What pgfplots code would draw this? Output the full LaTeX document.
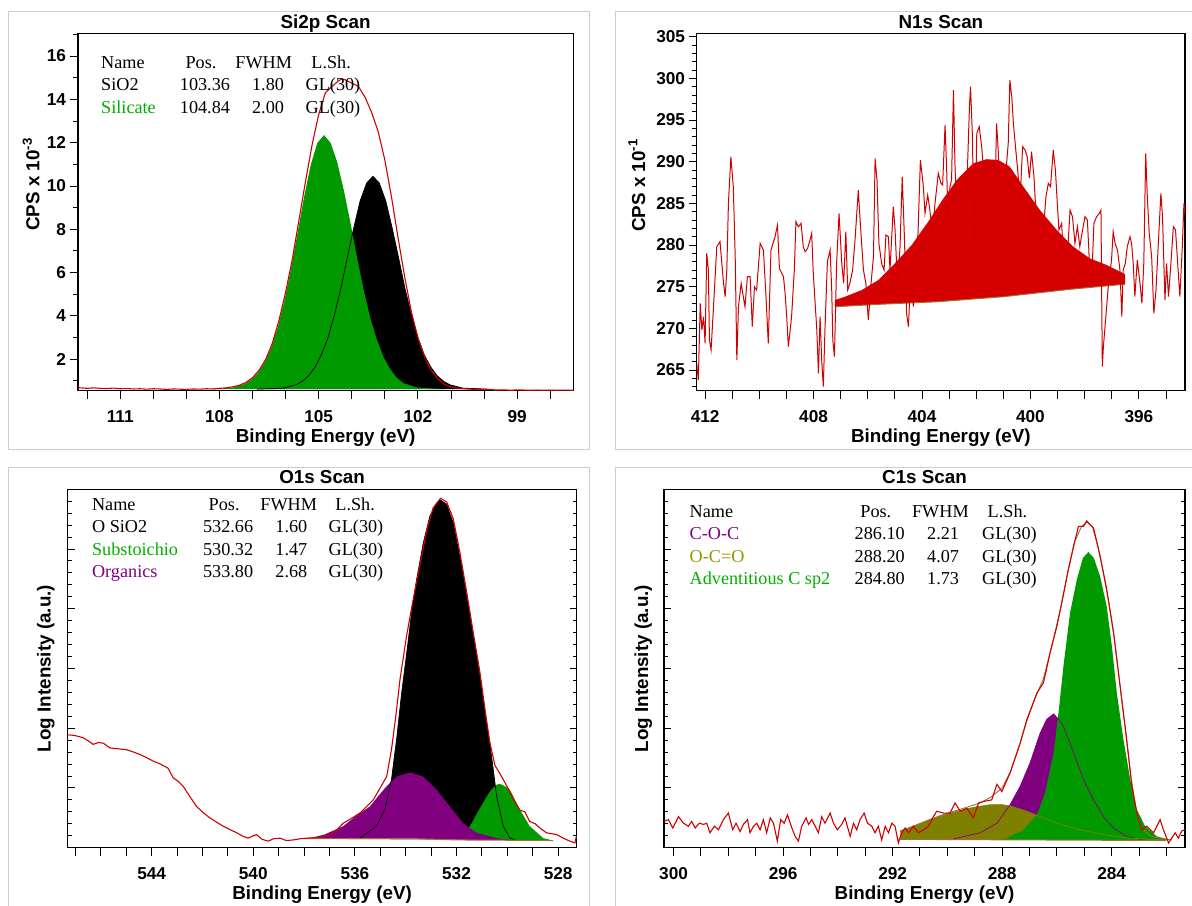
\documentclass[border=0pt]{standalone}
\usepackage{pgfplots}
\pgfplotsset{compat=1.18}
\usepackage{fontspec}
\setmainfont{Liberation Sans}
\newfontfamily\legserif{Liberation Serif}

\definecolor{pkgreen}{RGB}{0,153,0}
\definecolor{pkpurple}{RGB}{128,0,128}
\definecolor{pkolive}{RGB}{128,128,0}
\definecolor{datred}{RGB}{208,0,0}
\definecolor{fillred}{RGB}{214,0,0}
\definecolor{bgbrown}{RGB}{160,110,55}
\definecolor{framegray}{RGB}{205,205,205}
\definecolor{txtgreen}{RGB}{0,175,0}
\definecolor{txtolive}{RGB}{150,150,0}

\newcommand\lgf{\legserif\fontsize{9.1}{11}\selectfont}
\newcommand\ttlf{\bfseries\fontsize{9.4}{11}\selectfont}
\newcommand\lgnode[4][black]{\node[anchor=base west,inner sep=0pt,text=#1,font=\lgf] at (#2pt,#3pt) {#4};}

\pgfplotsset{
  xps/.style={
    scale only axis, x dir=reverse, clip=true,
    axis line style={line width=0.75pt},
    tick style={black, line width=0.5pt},
    major tick length=4pt, minor tick length=2.2pt,
    tick label style={font=\bfseries\fontsize{8.6}{10}\selectfont},
    /pgf/number format/assume math mode=true,
    xticklabel style={yshift=-2.5pt},
  },
  logticks/.style={
    scale only axis, xmin=0, xmax=1, ymin=0, ymax=6,
    axis line style={line width=0.75pt},
    xtick=\empty, ytick={1,...,5}, yticklabels={,,,,},
    minor ytick={0.2,0.4,...,5.9},
    tick align=inside, ytick pos=both,
    tick style={black, line width=0.5pt},
    major tick length=3.5pt, minor tick length=2pt,
  },
}

\begin{document}
\begin{tikzpicture}
\useasboundingbox (0,0) rectangle (596pt,452.5pt);

% panel frames
\draw[framegray, line width=0.5pt] (4.2pt,227.85pt) rectangle (294.7pt,446.65pt);
\draw[framegray, line width=0.5pt] (596.5pt,446.65pt) -- (307.9pt,446.65pt) -- (307.9pt,227.85pt) -- (596.5pt,227.85pt);
\draw[framegray, line width=0.5pt] (4.2pt,-0.5pt) -- (4.2pt,218.65pt) -- (294.7pt,218.65pt) -- (294.7pt,-0.5pt);
\draw[framegray, line width=0.5pt] (307.9pt,-0.5pt) -- (307.9pt,218.65pt) -- (596.5pt,218.65pt);

% ---------------- Si2p ----------------
\begin{axis}[xps, at={(38.95pt,257.15pt)}, anchor=south west,
  width=247.75pt, height=178.7pt,
  xmin=97.30, xmax=112.28, ymin=0.55, ymax=17.05,
  tick align=outside, xtick pos=left, ytick pos=left,
  xtick={98,...,112}, xticklabels={,99,,,102,,,105,,,108,,,111,},
  ytick={2,4,...,16}, yticklabels={2,4,6,8,10,12,14,16},
  minor ytick={1,...,17},
  yticklabel style={xshift=1.6pt}]
% SiO2 component
\addplot[fill=black, draw=none] coordinates {
 (106.86,0.62) (106.08,0.67) (105.69,0.82) (105.50,0.98) (105.30,1.24) (105.11,1.64)
 (104.92,2.21) (104.72,3.00) (104.53,4.02) (104.33,5.26) (104.14,6.66) (103.94,8.07)
 (103.75,9.30) (103.55,10.14) (103.36,10.45) (103.17,10.14) (102.97,9.30) (102.78,8.07)
 (102.58,6.66) (102.39,5.26) (102.19,4.02) (102.00,3.00) (101.81,2.21) (101.61,1.64)
 (101.42,1.24) (101.22,0.98) (101.03,0.82) (100.64,0.67) (99.86,0.62)} -- cycle;
% Silicate component
\addplot[fill=pkgreen, draw=none] coordinates {
 (108.44,0.62) (107.64,0.68) (107.24,0.86) (107.04,1.06) (106.84,1.37) (106.64,1.84)
 (106.44,2.52) (106.24,3.46) (106.04,4.68) (105.84,6.16) (105.64,7.83) (105.44,9.51)
 (105.24,10.98) (105.04,11.99) (104.84,12.35) (104.64,11.99) (104.44,11.10) (104.24,9.80)
 (104.04,8.30) (103.84,6.70) (103.64,5.20) (103.44,3.90) (103.24,2.90) (103.04,2.10)
 (102.84,1.55) (102.64,1.15) (102.44,0.90) (102.04,0.70) (101.24,0.62)} -- cycle;
% SiO2 outline
\addplot[black, line width=0.35pt] coordinates {
 (106.86,0.62) (106.08,0.67) (105.69,0.82) (105.50,0.98) (105.30,1.24) (105.11,1.64)
 (104.92,2.21) (104.72,3.00) (104.53,4.02) (104.33,5.26) (104.14,6.66) (103.94,8.07)
 (103.75,9.30) (103.55,10.14) (103.36,10.45) (103.17,10.14) (102.97,9.30) (102.78,8.07)
 (102.58,6.66) (102.39,5.26) (102.19,4.02) (102.00,3.00) (101.81,2.21) (101.61,1.64)
 (101.42,1.24) (101.22,0.98) (101.03,0.82) (100.64,0.67) (99.86,0.62)};
% measured counts
\addplot[datred, line width=0.55pt] coordinates {
 (112.28,0.69) (112.0,0.66) (111.8,0.68) (111.6,0.66) (111.4,0.65) (111.2,0.67) (111.0,0.64)
 (110.8,0.65) (110.6,0.63) (110.4,0.64) (110.2,0.62) (110.0,0.64) (109.8,0.63) (109.6,0.61)
 (109.4,0.63) (109.2,0.62) (109.0,0.61) (108.8,0.63) (108.6,0.62) (108.4,0.64) (108.2,0.63)
 (108.0,0.66) (107.8,0.68) (107.6,0.73) (107.4,0.80) (107.2,0.93) (107.0,1.15) (106.8,1.50)
 (106.6,2.0) (106.4,2.75) (106.2,3.8) (106.0,5.1) (105.8,6.6) (105.6,8.4) (105.4,10.2)
 (105.2,11.9) (105.0,13.3) (104.8,14.3) (104.6,14.6) (104.4,14.85) (104.3,14.95) (104.2,14.9)
 (104.0,14.75) (103.8,14.6) (103.6,14.1) (103.4,13.4) (103.2,12.5) (103.0,11.2) (102.8,9.5)
 (102.6,7.6) (102.4,5.8) (102.2,4.2) (102.0,3.0) (101.8,2.1) (101.6,1.5) (101.4,1.1)
 (101.2,0.85) (101.0,0.72) (100.8,0.67) (100.6,0.64) (100.4,0.62) (100.2,0.60) (100.0,0.61)
 (99.8,0.60) (99.6,0.58) (99.4,0.59) (99.2,0.57) (99.0,0.59) (98.8,0.58) (98.6,0.57)
 (98.4,0.58) (98.2,0.57) (98.0,0.58) (97.8,0.57) (97.6,0.58) (97.3,0.57)};
\end{axis}

% ---------------- N1s ----------------
\begin{axis}[xps, at={(348.35pt,257.15pt)}, anchor=south west,
  width=244.15pt, height=178.7pt,
  xmin=394.30, xmax=412.31, ymin=262.52, ymax=305.41,
  tick align=outside, xtick pos=left, ytick pos=left,
  xtick={395,...,412}, xticklabels={,396,,,,400,,,,404,,,,408,,,,412},
  ytick={265,270,...,305}, yticklabels={265,270,275,280,285,290,295,300,305},
  minor ytick={263,...,305},
  yticklabel style={xshift=1.7pt}]
% fitted N 1s component above its background
\addplot[fill=fillred, draw=none] coordinates {
 (407.21,273.4) (406.84,273.8) (406.22,274.6) (405.61,275.8) (405.00,277.8) (404.38,280.0)
 (403.77,282.8) (403.25,285.4) (402.72,287.8) (402.11,289.8) (401.62,290.3) (401.19,290.2)
 (400.76,289.4) (400.26,287.0) (399.65,284.2) (399.03,281.8) (398.42,279.8) (397.81,278.4)
 (397.19,277.6) (396.51,276.5) (396.51,275.3) (398.50,274.7) (401.00,273.8) (403.40,273.2)
 (405.50,272.9) (407.21,272.6)} -- cycle;
\addplot[bgbrown, line width=0.5pt] coordinates {
 (407.21,272.6) (405.50,272.9) (403.40,273.2) (401.00,273.8) (398.50,274.7) (396.51,275.3)};
% measured counts
\addplot[datred, line width=0.5pt] coordinates {
 (412.31,265.8) (412.25,263.8) (412.18,273.0) (412.12,269.8) (412.06,271.4) (412.00,268.2)
 (411.94,279.0) (411.88,277.0) (411.84,268.6) (411.78,267.4) (411.69,272.6) (411.57,279.8)
 (411.45,280.4) (411.32,275.4) (411.26,273.8) (411.20,277.0) (411.14,285.0) (411.05,290.6)
 (410.96,287.0) (410.89,278.6) (410.83,266.2) (410.77,272.6) (410.67,275.4) (410.59,273.8)
 (410.53,272.6) (410.44,276.2) (410.34,276.2) (410.26,270.2) (410.18,275.0) (410.10,274.6)
 (409.97,280.2) (409.85,279.4) (409.76,274.2) (409.67,268.2) (409.57,279.4) (409.42,281.0)
 (409.33,282.4) (409.26,277.2) (409.11,276.2) (409.05,274.2) (408.99,271.4) (408.93,267.8)
 (408.81,271.4) (408.71,277.0) (408.65,282.8) (408.56,282.2) (408.46,282.6) (408.38,279.8)
 (408.31,279.2) (408.22,279.6) (408.13,280.6) (408.07,281.4) (408.01,276.6) (407.88,269.8)
 (407.82,264.6) (407.76,271.4) (407.70,266.2) (407.64,263.0) (407.58,269.8) (407.49,278.0)
 (407.39,279.4) (407.33,274.6) (407.29,268.6) (407.23,266.6) (407.15,277.8) (407.06,283.8)
 (406.96,277.8) (406.89,275.4) (406.81,281.6) (406.74,274.6) (406.66,275.4) (406.56,277.0)
 (406.47,280.6) (406.35,286.6) (406.26,281.8) (406.16,277.0) (406.07,275.4) (405.98,271.0)
 (405.88,275.4) (405.79,278.6) (405.73,290.4) (405.66,287.8) (405.59,280.2) (405.49,277.8)
 (405.40,277.0) (405.33,281.2) (405.24,281.0) (405.18,277.0) (405.06,284.6) (405.00,282.2)
 (404.90,275.0) (404.81,279.8) (404.73,288.2) (404.65,281.0) (404.57,271.8) (404.50,270.2)
 (404.41,277.0) (404.32,272.6) (404.16,280.2) (404.06,290.2) (403.95,287.0) (403.89,283.8)
 (403.79,286.0) (403.71,284.2) (403.62,281.4) (403.52,285.0) (403.40,288.6) (403.30,287.4)
 (403.24,287.2) (403.15,294.4) (403.09,289.0) (403.03,281.8) (402.97,287.0) (402.91,287.8)
 (402.84,298.6) (402.78,289.0) (402.72,285.0) (402.66,282.2) (402.57,287.0) (402.48,285.0)
 (402.35,286.6) (402.25,296.6) (402.21,299.0) (402.14,293.0) (402.07,277.8) (401.98,293.4)
 (401.89,294.2) (401.80,291.8) (401.71,288.2) (401.64,289.8) (401.55,284.2) (401.47,287.8)
 (401.39,290.2) (401.31,285.8) (401.25,294.6) (401.19,291.4) (401.10,283.4) (401.03,273.8)
 (400.94,284.2) (400.88,289.8) (400.82,292.2) (400.76,299.8) (400.69,297.8) (400.63,294.6)
 (400.53,291.0) (400.46,288.6) (400.39,285.0) (400.29,291.8) (400.20,291.4) (400.12,290.6)
 (400.04,288.0) (399.96,291.2) (399.87,288.2) (399.77,282.2) (399.65,278.6) (399.53,281.4)
 (399.43,285.8) (399.34,287.4) (399.26,287.0) (399.16,291.4) (399.08,289.0) (399.01,285.0)
 (398.95,281.8) (398.85,282.6) (398.77,277.8) (398.67,277.0) (398.54,284.2) (398.45,283.4)
 (398.36,280.2) (398.27,282.2) (398.18,279.8) (398.08,281.8) (397.99,283.4) (397.90,283.0)
 (397.83,278.2) (397.75,275.0) (397.66,282.6) (397.56,283.4) (397.46,283.8) (397.40,284.2)
 (397.35,265.4) (397.31,267.8) (397.23,271.0) (397.13,275.0) (397.01,278.2) (396.95,281.6)
 (396.88,280.2) (396.79,279.4) (396.70,277.0) (396.63,271.4) (396.58,277.0) (396.50,277.8)
 (396.43,279.8) (396.33,281.0) (396.27,280.2) (396.21,277.8) (396.15,273.8) (396.06,278.2)
 (395.96,275.4) (395.89,273.0) (395.82,277.8) (395.75,291.0) (395.69,285.8) (395.62,281.4)
 (395.53,278.6) (395.45,271.8) (395.37,274.6) (395.29,279.8) (395.19,286.2) (395.13,283.4)
 (395.04,273.4) (394.98,277.8) (394.91,273.8) (394.82,277.8) (394.73,282.2) (394.65,281.8)
 (394.57,277.8) (394.49,273.8) (394.40,279.8) (394.34,285.0) (394.28,283.4)};
\end{axis}

% ---------------- O1s ----------------
\begin{axis}[logticks, at={(33.75pt,28.65pt)}, anchor=south west,
  width=254.6pt, height=179.2pt]
\end{axis}
\begin{axis}[xps, at={(33.75pt,28.65pt)}, anchor=south west,
  width=254.6pt, height=179.2pt,
  xmin=527.27, xmax=547.31, ymin=0, ymax=6,
  tick align=outside, xtick pos=left, ytick=\empty,
  xtick={528,...,547}, xticklabels={528,,,,532,,,,536,,,,540,,,,544,,,}]
% O in SiO2
\addplot[fill=black, draw=none] coordinates {
 (536.0,0.15) (535.80,0.16) (535.15,0.36) (534.82,0.64) (534.56,1.14) (534.36,1.81)
 (534.16,2.59) (533.96,3.26) (533.77,3.93) (533.57,4.49) (533.31,5.10) (533.05,5.55)
 (532.78,5.77) (532.63,5.82) (532.39,5.75) (532.13,5.44) (531.87,4.88) (531.60,4.21)
 (531.34,3.54) (531.08,2.87) (530.88,2.26) (530.62,1.53) (530.42,0.86) (530.16,0.36)
 (529.90,0.16) (529.70,0.14)} -- cycle;
% substoichiometric oxide
\addplot[fill=pkgreen, draw=none] coordinates {
 (532.10,0.13) (532.00,0.14) (531.47,0.36) (531.08,0.66) (530.69,0.94) (530.45,1.05)
 (530.29,1.07) (530.10,1.03) (529.90,0.97) (529.51,0.64) (529.12,0.36) (528.59,0.16)
 (528.20,0.12)} -- cycle;
% organic oxygen
\addplot[fill=pkpurple, draw=none] coordinates {
 (538.00,0.15) (537.77,0.16) (537.20,0.22) (536.46,0.36) (535.90,0.55) (535.41,0.69)
 (535.05,0.88) (534.75,1.03) (534.36,1.19) (533.83,1.26) (533.31,1.19) (532.78,0.97)
 (532.26,0.69) (531.74,0.41) (531.21,0.25) (530.42,0.16) (529.90,0.13)} -- cycle;
\addplot[black, line width=0.35pt] coordinates {
 (536.0,0.15) (535.80,0.16) (535.15,0.36) (534.82,0.64) (534.56,1.14) (534.36,1.81)
 (534.16,2.59) (533.96,3.26) (533.77,3.93) (533.57,4.49) (533.31,5.10) (533.05,5.55)
 (532.78,5.77) (532.63,5.82) (532.39,5.75) (532.13,5.44) (531.87,4.88) (531.60,4.21)
 (531.34,3.54) (531.08,2.87) (530.88,2.26) (530.62,1.53) (530.42,0.86) (530.16,0.36)
 (529.90,0.16) (529.70,0.14)};
\addplot[bgbrown, line width=0.5pt] coordinates {
 (538.0,0.15) (533.5,0.15) (532.0,0.13) (528.2,0.12)};
% measured counts
\addplot[datred, line width=0.55pt] coordinates {
 (547.28,1.89) (547.05,1.88) (546.85,1.86) (546.69,1.84) (546.50,1.79) (546.30,1.73)
 (546.10,1.76) (545.90,1.75) (545.64,1.67) (545.40,1.66) (545.20,1.65) (544.98,1.64)
 (544.70,1.60) (544.46,1.56) (544.20,1.51) (543.94,1.45) (543.65,1.40) (543.35,1.33)
 (543.15,1.17) (542.95,1.11) (542.76,1.03) (542.50,0.86) (542.23,0.69) (541.95,0.58)
 (541.71,0.50) (541.45,0.43) (541.18,0.36) (540.90,0.30) (540.65,0.25) (540.40,0.19)
 (540.20,0.16) (540.05,0.19) (539.87,0.22) (539.65,0.14) (539.41,0.11) (539.20,0.15)
 (538.95,0.16) (538.70,0.12) (538.43,0.13) (538.15,0.15) (537.90,0.16) (537.50,0.17)
 (537.10,0.21) (536.98,0.22) (536.70,0.30) (536.46,0.41) (536.10,0.50) (535.80,0.58)
 (535.28,0.80) (535.02,0.99) (534.75,1.19) (534.56,1.64) (534.39,2.20) (534.23,2.80)
 (533.96,3.56) (533.70,4.17) (533.44,4.73) (533.18,5.30) (532.92,5.69) (532.63,5.85)
 (532.39,5.79) (532.13,5.51) (531.87,4.95) (531.60,4.28) (531.34,3.60) (531.08,2.94)
 (530.88,2.32) (530.69,1.77) (530.49,1.38) (530.29,1.24) (530.03,1.04) (529.77,0.82)
 (529.51,0.63) (529.31,0.60) (529.12,0.44) (528.90,0.40) (528.72,0.33) (528.46,0.25)
 (528.06,0.22) (527.80,0.16) (527.54,0.11) (527.34,0.08) (527.28,0.20)};
\end{axis}

% ---------------- C1s ----------------
\begin{axis}[logticks, at={(332pt,28.65pt)}, anchor=south west,
  width=260.5pt, height=179.2pt]
\end{axis}
\begin{axis}[xps, at={(332pt,28.65pt)}, anchor=south west,
  width=260.5pt, height=179.2pt,
  xmin=281.32, xmax=300.35, ymin=0, ymax=6,
  tick align=outside, xtick pos=left, ytick=\empty,
  xtick={282,...,300}, xticklabels={,,284,,,,288,,,,292,,,,296,,,,300}]
% C-O-C
\addplot[fill=pkpurple, draw=none] coordinates {
 (289.90,0.13) (289.66,0.16) (288.80,0.25) (288.19,0.41) (287.71,0.72) (287.34,1.03)
 (286.98,1.42) (286.61,1.92) (286.37,2.15) (286.12,2.24) (285.94,2.15) (285.76,2.03)
 (285.39,1.59) (285.03,1.14) (284.66,0.80) (284.30,0.52) (283.93,0.33) (283.45,0.19)
 (282.84,0.13)} -- cycle;
% O-C=O
\addplot[fill=pkolive, draw=none] coordinates {
 (291.72,0.13) (291.72,0.28) (291.20,0.36) (290.63,0.47) (290.10,0.55) (289.66,0.61)
 (289.00,0.68) (288.44,0.72) (288.00,0.72) (287.71,0.70) (287.10,0.61) (286.73,0.54)
 (286.00,0.41) (285.15,0.30) (284.30,0.22) (283.32,0.16) (282.11,0.13)} -- cycle;
% adventitious carbon
\addplot[fill=pkgreen, draw=none] coordinates {
 (288.20,0.13) (287.83,0.16) (287.22,0.30) (286.73,0.55) (286.43,0.92) (286.12,1.59)
 (285.94,2.26) (285.76,3.04) (285.52,3.93) (285.27,4.49) (285.05,4.85) (284.85,4.95)
 (284.65,4.85) (284.42,4.54) (284.18,4.04) (283.99,3.37) (283.81,2.59) (283.57,1.81)
 (283.32,1.14) (283.08,0.64) (282.78,0.36) (282.35,0.19) (281.86,0.13)} -- cycle;
\addplot[pkpurple, line width=0.35pt] coordinates {
 (289.90,0.13) (289.66,0.16) (288.80,0.25) (288.19,0.41) (287.71,0.72) (287.34,1.03)
 (286.98,1.42) (286.61,1.92) (286.37,2.15) (286.12,2.24) (285.94,2.15) (285.76,2.03)
 (285.39,1.59) (285.03,1.14) (284.66,0.80) (284.30,0.52) (283.93,0.33) (283.45,0.19)
 (282.84,0.13)};
\addplot[pkolive, line width=0.35pt] coordinates {
 (291.72,0.28) (291.20,0.36) (290.63,0.47) (290.10,0.55) (289.66,0.61)
 (289.00,0.68) (288.44,0.72) (288.00,0.72) (287.71,0.70) (287.10,0.61) (286.73,0.54)
 (286.00,0.41) (285.15,0.30) (284.30,0.22) (283.32,0.16) (282.11,0.13)};
\addplot[bgbrown, line width=0.5pt] coordinates {(291.72,0.14) (282.0,0.12)};
% fit envelope
\addplot[bgbrown, line width=0.45pt] coordinates {
 (291.72,0.28) (291.2,0.37) (290.6,0.48) (290.0,0.58) (289.4,0.66) (288.8,0.75) (288.4,0.85)
 (288.0,1.00) (287.7,1.27) (287.4,1.67) (287.1,2.12) (286.8,2.50) (286.5,2.82) (286.2,3.35)
 (285.9,3.93) (285.6,4.62) (285.35,5.12) (285.1,5.38) (284.9,5.45) (284.7,5.37) (284.5,5.04)
 (284.3,4.60) (284.1,4.10) (283.9,3.50) (283.7,2.74) (283.5,1.98) (283.3,1.20) (283.1,0.62)
 (282.9,0.33) (282.6,0.20) (282.2,0.15) (281.8,0.13)};
% measured counts
\addplot[datred, line width=0.55pt] coordinates {
 (300.35,0.44) (300.19,0.47) (300.03,0.33) (299.82,0.52) (299.64,0.41) (299.46,0.36)
 (299.34,0.44) (299.21,0.33) (299.06,0.41) (298.91,0.39) (298.79,0.41) (298.67,0.25)
 (298.51,0.36) (298.36,0.30) (298.18,0.47) (298.00,0.58) (297.84,0.30) (297.72,0.41)
 (297.57,0.27) (297.45,0.39) (297.30,0.47) (297.21,0.25) (297.08,0.36) (296.96,0.41)
 (296.84,0.30) (296.72,0.47) (296.60,0.25) (296.47,0.50) (296.35,0.41) (296.21,0.11)
 (296.09,0.47) (295.96,0.41) (295.84,0.55) (295.68,0.33) (295.56,0.19) (295.44,0.11)
 (295.32,0.36) (295.16,0.50) (295.07,0.39) (294.95,0.47) (294.83,0.36) (294.71,0.25)
 (294.59,0.52) (294.47,0.41) (294.28,0.58) (294.16,0.41) (294.02,0.30) (293.86,0.39)
 (293.74,0.50) (293.55,0.19) (293.43,0.41) (293.31,0.30) (293.19,0.47) (293.04,0.58)
 (292.92,0.41) (292.76,0.36) (292.64,0.25) (292.52,0.36) (292.40,0.13) (292.27,0.36)
 (292.15,0.25) (292.03,0.41) (291.91,0.36) (291.79,0.08) (291.67,0.25) (291.54,0.33)
 (291.42,0.25) (291.24,0.36) (291.06,0.25) (290.87,0.30) (290.69,0.36) (290.51,0.52)
 (290.39,0.61) (290.14,0.58) (289.90,0.58) (289.72,0.75) (289.53,0.61) (289.29,0.66)
 (289.05,0.50) (288.86,0.75) (288.62,0.78) (288.38,0.80) (288.19,1.06) (288.01,0.94)
 (287.71,1.25) (287.34,1.75) (287.10,2.14) (286.73,2.59) (286.49,2.76) (286.25,3.26)
 (286.00,3.71) (285.76,4.24) (285.58,4.66) (285.39,5.05) (285.21,5.38) (285.03,5.38)
 (284.91,5.47) (284.66,5.35) (284.42,4.88) (284.18,4.32) (283.93,3.60) (283.69,2.70)
 (283.45,1.81) (283.26,1.03) (283.08,0.58) (282.90,0.30) (282.72,0.36) (282.47,0.25)
 (282.23,0.47) (282.11,0.30) (281.92,0.08) (281.68,0.25) (281.56,0.16) (281.44,0.28)
 (281.32,0.30)};
\end{axis}

% titles and axis labels
\node[anchor=base, inner sep=0pt, font=\ttlf] at (162.8pt,438.25pt) {Si2p Scan};
\node[anchor=base, inner sep=0pt, font=\ttlf] at (470.45pt,438.25pt) {N1s Scan};
\node[anchor=base, inner sep=0pt, font=\ttlf] at (161.05pt,210.75pt) {O1s Scan};
\node[anchor=base, inner sep=0pt, font=\ttlf] at (462.25pt,210.75pt) {C1s Scan};
\node[anchor=base, inner sep=0pt, font=\ttlf] at (162.8pt,231pt) {Binding Energy (eV)};
\node[anchor=base, inner sep=0pt, font=\ttlf] at (470.45pt,231pt) {Binding Energy (eV)};
\node[anchor=base, inner sep=0pt, font=\ttlf] at (161.05pt,3pt) {Binding Energy (eV)};
\node[anchor=base, inner sep=0pt, font=\ttlf] at (462.25pt,3pt) {Binding Energy (eV)};
\node[rotate=90, anchor=base, inner sep=0pt, font=\ttlf] at (19.75pt,360.5pt) {CPS x 10\textsuperscript{-3}};
\node[rotate=90, anchor=base, inner sep=0pt, font=\ttlf] at (322.5pt,360pt) {CPS x 10\textsuperscript{-1}};
\node[rotate=90, anchor=base, inner sep=0pt, font=\ttlf] at (25.25pt,118.25pt) {Log Intensity (a.u.)};
\node[rotate=90, anchor=base, inner sep=0pt, font=\ttlf] at (324pt,118.25pt) {Log Intensity (a.u.)};

% component tables
\lgnode{50.4}{418.35}{Name}
\lgnode{92.6}{418.35}{Pos.}
\lgnode{117.5}{418.35}{FWHM}
\lgnode{155.5}{418.35}{L.Sh.}
\lgnode{50.4}{407}{SiO2}
\lgnode{89.75}{407}{103.36}
\lgnode{125.85}{407}{1.80}
\lgnode{152.65}{407}{GL(30)}
\lgnode[txtgreen]{50.4}{395.85}{Silicate}
\lgnode{89.75}{395.85}{104.84}
\lgnode{125.85}{395.85}{2.00}
\lgnode{152.65}{395.85}{GL(30)}

\lgnode{45.85}{197.15}{Name}
\lgnode{104.15}{197.15}{Pos.}
\lgnode{130}{197.15}{FWHM}
\lgnode{167.5}{197.15}{L.Sh.}
\lgnode{45.85}{186.15}{O SiO2}
\lgnode{101.35}{186.15}{532.66}
\lgnode{137.5}{186.15}{1.60}
\lgnode{164.15}{186.15}{GL(30)}
\lgnode[txtgreen]{45.85}{175}{Substoichio}
\lgnode{101.35}{175}{530.32}
\lgnode{137.5}{175}{1.47}
\lgnode{164.15}{175}{GL(30)}
\lgnode[pkpurple]{45.85}{163.75}{Organics}
\lgnode{101.35}{163.75}{533.80}
\lgnode{137.5}{163.75}{2.68}
\lgnode{164.15}{163.75}{GL(30)}

\lgnode{344.65}{193.65}{Name}
\lgnode{430}{193.65}{Pos.}
\lgnode{455.85}{193.65}{FWHM}
\lgnode{493.65}{193.65}{L.Sh.}
\lgnode[pkpurple]{344.65}{182.5}{C-O-C}
\lgnode{427.15}{182.5}{286.10}
\lgnode{463.4}{182.5}{2.21}
\lgnode{490.85}{182.5}{GL(30)}
\lgnode[txtolive]{344.65}{171.15}{O-C=O}
\lgnode{427.15}{171.15}{288.20}
\lgnode{463.4}{171.15}{4.07}
\lgnode{490.85}{171.15}{GL(30)}
\lgnode[txtgreen]{344.65}{160.35}{Adventitious C sp2}
\lgnode{427.15}{160.35}{284.80}
\lgnode{463.4}{160.35}{1.73}
\lgnode{490.85}{160.35}{GL(30)}
\end{tikzpicture}
\end{document}
